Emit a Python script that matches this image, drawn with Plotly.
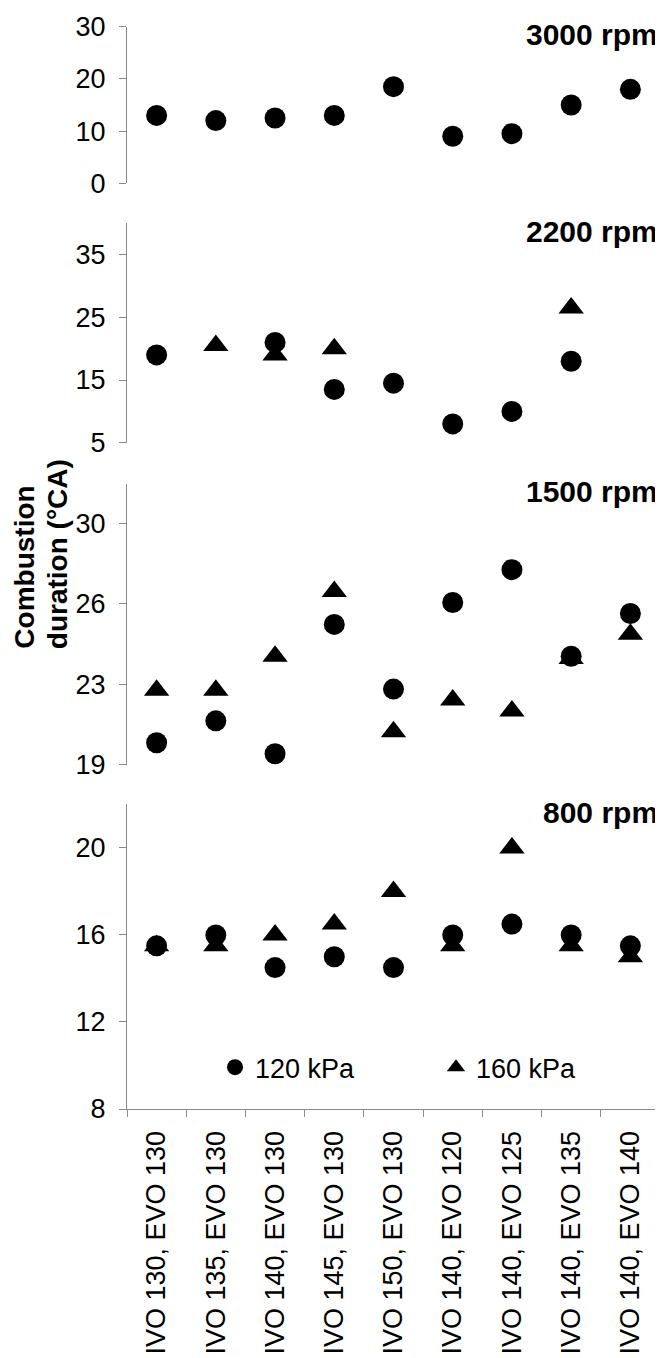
import plotly.graph_objects as go

# ---------------- data ----------------
categories = ["IVO 130, EVO 130", "IVO 135, EVO 130", "IVO 140, EVO 130",
              "IVO 145, EVO 130", "IVO 150, EVO 130", "IVO 140, EVO 120",
              "IVO 140, EVO 125", "IVO 140, EVO 135", "IVO 140, EVO 140"]

panel_labels = ["3000 rpm", "2200 rpm", "1500 rpm", "800 rpm"]
series_names = ["120 kPa", "160 kPa"]

kpa120_3000 = [13, 12, 12.5, 13, 18.5, 9, 9.5, 15, 18]
kpa160_3000 = [None] * 9

kpa120_2200 = [19, None, 21, 13.5, 14.5, 8, 10, 18, None]
kpa160_2200 = [None, 20.5, 19, 20, None, None, None, 26.5, None]

kpa120_1500 = [20.0, 21.0, 19.5, 25.4, 22.45, 26.4, 27.9, 23.95, 25.9]
kpa160_1500 = [22.4, 22.4, 23.95, 26.9, 20.5, 21.95, 21.45, 23.85, 24.95]

kpa120_800 = [15.5, 16, 14.5, 15, 14.5, 16, 16.5, 16, 15.5]
kpa160_800 = [15.5, 15.5, 16, 16.5, 18, 15.5, 20, 15.5, 15]

yticks_3000 = [0, 10, 20, 30]
yticks_2200 = [5, 15, 25, 35]
yticks_1500 = [19, 22.667, 26.333, 30]
yticklabels_1500 = ["19", "23", "26", "30"]
yticks_800 = [8, 12, 16, 20]

yrange_3000 = [0, 30]
yrange_2200 = [5, 40]
yrange_1500 = [19, 31.83]
yrange_800 = [8, 22]

y_title_lines = ["Combustion", "duration (°CA)"]

# ---------------- layout helpers ----------------
# the page body has a default 8px margin, so the figure is drawn 8px in
PAGE_W, PAGE_H, BODY = 663, 1358, 8
W, H = PAGE_W - BODY, PAGE_H - BODY

# page-pixel geometry of the plot area
P_LEFT, P_RIGHT, P_TOP, P_BOT = 127, 660, 22, 1122
ML, MR = P_LEFT - BODY, W - (P_RIGHT - BODY)
MT, MB = P_TOP - BODY, H - (P_BOT - BODY)
PH = P_BOT - P_TOP
PW = P_RIGHT - P_LEFT


def py(p):
    return (P_BOT - p) / PH


def px(p):
    return (p - P_LEFT) / PW


panel_px = [(22.7, 181.7), (222.3, 445.3), (486.7, 772.3), (812.7, P_BOT)]

FONT = "Liberation Sans, Arial, sans-serif"
AXIS_GRAY = "#8a8a8a"

fig = go.Figure()

panels = [
    (kpa120_3000, kpa160_3000, yticks_3000, None, yrange_3000),
    (kpa120_2200, kpa160_2200, yticks_2200, None, yrange_2200),
    (kpa120_1500, kpa160_1500, yticks_1500, yticklabels_1500, yrange_1500),
    (kpa120_800, kpa160_800, yticks_800, None, yrange_800),
]

for i, (c, t, tv, tt, rg) in enumerate(panels):
    ya = "y" if i == 0 else f"y{i+1}"
    last = i == len(panels) - 1
    fig.add_trace(go.Scatter(
        x=categories, y=t, mode="markers", name=series_names[1],
        xaxis="x", yaxis=ya, showlegend=last, legendrank=2, cliponaxis=False,
        marker=dict(symbol="triangle-up", size=22, color="black", line=dict(width=0))))
    fig.add_trace(go.Scatter(
        x=categories, y=c, mode="markers", name=series_names[0],
        xaxis="x", yaxis=ya, showlegend=last, legendrank=1, cliponaxis=False,
        marker=dict(symbol="circle", size=21, color="black", line=dict(width=0))))

layout = dict(
    width=W, height=H,
    margin=dict(l=ML, r=MR, t=MT, b=MB, pad=0),
    paper_bgcolor="white", plot_bgcolor="white",
    font=dict(family=FONT, size=27, color="black"),
    showlegend=True,
    legend=dict(orientation="h", x=px(215), xanchor="left", y=py(1080), yanchor="middle",
                font=dict(size=27, family=FONT, color="black"),
                entrywidth=176, entrywidthmode="pixels",
                bgcolor="rgba(0,0,0,0)", borderwidth=0, itemclick=False),
    xaxis=dict(
        type="category", range=[-0.5, len(categories) - 0.5],
        anchor="y4", showline=True, linecolor=AXIS_GRAY, linewidth=1.3,
        ticks="outside", tickson="boundaries", ticklen=7, tickcolor=AXIS_GRAY, tickwidth=1.3,
        tickangle=-90, tickfont=dict(size=27, family=FONT, color="black"),
        showgrid=False, zeroline=False, ticklabelstandoff=10,
    ),
)

for i, (c, t, tv, tt, rg) in enumerate(panels):
    key = "yaxis" if i == 0 else f"yaxis{i+1}"
    top, bot = panel_px[i]
    ax = dict(
        domain=[py(bot), py(top)], range=rg, anchor="x",
        showline=True, linecolor=AXIS_GRAY, linewidth=1.3,
        ticks="outside", ticklen=7, tickcolor=AXIS_GRAY, tickwidth=1.3,
        tickvals=tv, showgrid=False, zeroline=False,
        tickfont=dict(size=27, family=FONT, color="black"),
        ticklabelstandoff=8,
    )
    if tt is not None:
        ax["ticktext"] = tt
    layout[key] = ax

annotations = []
for i, lab in enumerate(panel_labels):
    top, bot = panel_px[i]
    annotations.append(dict(
        text=f"<b>{lab}</b>", xref="paper", yref="paper", x=1.0, y=py(top + 8),
        xanchor="right", yanchor="middle", showarrow=False,
        font=dict(size=30, family=FONT, color="black")))

# two-line axis title, lines left-aligned (bottom-aligned once rotated)
title_x_px = [25, 57]
for line, xp in zip(y_title_lines, title_x_px):
    annotations.append(dict(
        text=f"<b>{line}</b>", xref="paper", yref="paper", x=px(xp), y=py(657),
        xanchor="center", yanchor="bottom", showarrow=False, textangle=-90,
        font=dict(size=28, family=FONT, color="black")))

layout["annotations"] = annotations
fig.update_layout(**layout)

fig.write_html("out.html")
